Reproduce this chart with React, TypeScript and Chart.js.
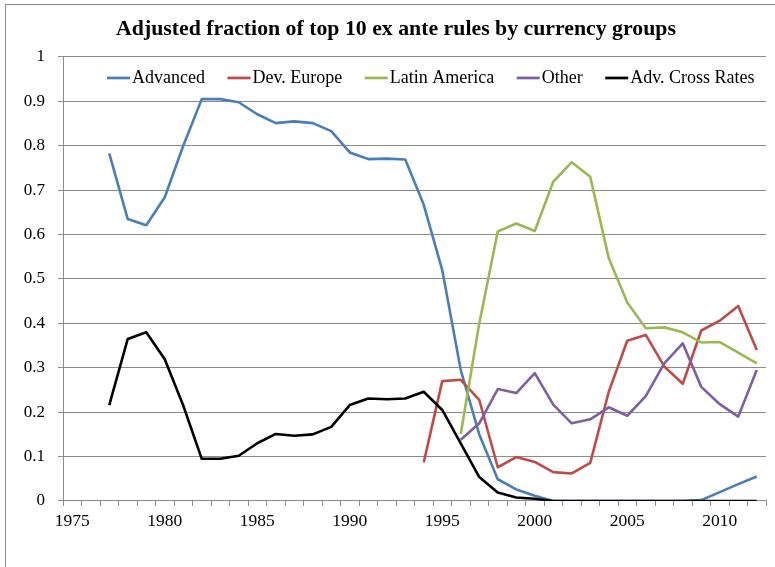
import React, { useEffect, useRef } from "react";
import { Chart, registerables } from "chart.js";

Chart.register(...registerables);

const years: number[] = [
  1975, 1976, 1977, 1978, 1979, 1980, 1981, 1982, 1983, 1984, 1985, 1986, 1987,
  1988, 1989, 1990, 1991, 1992, 1993, 1994, 1995, 1996, 1997, 1998, 1999, 2000,
  2001, 2002, 2003, 2004, 2005, 2006, 2007, 2008, 2009, 2010, 2011, 2012,
];

const advanced: (number | null)[] = [
  null, null, 0.783, 0.635, 0.621, 0.684, 0.8, 0.905, 0.905, 0.898, 0.871, 0.851, 0.855,
  0.851, 0.833, 0.785, 0.77, 0.771, 0.769, 0.667, 0.52, 0.295, 0.15, 0.049, 0.026, 0.012,
  0, 0, 0, 0, 0, 0, 0, 0, 0.002, 0.02, 0.038, 0.055,
];

const devEurope: (number | null)[] = [
  null, null, null, null, null, null, null, null, null, null, null, null, null,
  null, null, null, null, null, null, 0.087, 0.27, 0.273, 0.228, 0.076, 0.099, 0.088,
  0.065, 0.062, 0.086, 0.246, 0.361, 0.374, 0.303, 0.264, 0.384, 0.406, 0.439, 0.34,
];

const latinAmerica: (number | null)[] = [
  null, null, null, null, null, null, null, null, null, null, null, null, null,
  null, null, null, null, null, null, null, null, 0.151, 0.4, 0.607, 0.625, 0.608,
  0.719, 0.763, 0.73, 0.547, 0.447, 0.389, 0.391, 0.38, 0.357, 0.358, 0.334, 0.31,
];

const other: (number | null)[] = [
  null, null, null, null, null, null, null, null, null, null, null, null, null,
  null, null, null, null, null, null, null, null, 0.138, 0.175, 0.252, 0.243, 0.288,
  0.217, 0.175, 0.184, 0.211, 0.192, 0.236, 0.31, 0.355, 0.257, 0.218, 0.19, 0.295,
];

const advCrossRates: (number | null)[] = [
  null, null, 0.216, 0.365, 0.38, 0.319, 0.215, 0.095, 0.095, 0.102, 0.13, 0.151, 0.147,
  0.15, 0.167, 0.216, 0.231, 0.229, 0.231, 0.246, 0.205, 0.13, 0.054, 0.019, 0.008, 0.005,
  0, 0, 0, 0, 0, 0, 0, 0, 0, 0, 0, 0,
];

const seriesNames = ["Advanced", "Dev. Europe", "Latin America", "Other", "Adv. Cross Rates"];
const seriesColors = ["#4A7EBB", "#BE4B48", "#98B954", "#7D60A0", "#000000"];
const seriesValues = [advanced, devEurope, latinAmerica, other, advCrossRates];

const titleText = "Adjusted fraction of top 10 ex ante rules by currency groups";

const SERIF = '"Liberation Serif", "Times New Roman", serif';

const inlineLegend = {
  id: "inlineLegend",
  afterLayout(chart: any) {
    // let the y-axis labels use the space left of the layout padding (no clipping)
    if (chart.scales.y) chart.scales.y.left = 0;
  },
  afterDraw(chart: any) {
    const { ctx, chartArea } = chart;
    ctx.save();
    ctx.font = `18px ${SERIF}`;
    ctx.textBaseline = "middle";
    ctx.textAlign = "left";
    let x = chartArea.left + 44;
    const y = chartArea.top + 21;
    chart.data.datasets.forEach((ds: any) => {
      ctx.strokeStyle = ds.borderColor;
      ctx.lineWidth = 2.75;
      ctx.beginPath();
      ctx.moveTo(x, y);
      ctx.lineTo(x + 23, y);
      ctx.stroke();
      x += 25;
      ctx.fillStyle = "#000";
      ctx.fillText(ds.label, x, y);
      x += ctx.measureText(ds.label).width + 22.5;
    });
    ctx.restore();
  },
};

export default function App() {
  const ref = useRef<HTMLCanvasElement | null>(null);

  useEffect(() => {
    if (!ref.current) return;
    const chart = new Chart(ref.current, {
      type: "line",
      data: {
        labels: years.map(String),
        datasets: seriesNames.map((name, i) => ({
          label: name,
          data: seriesValues[i],
          borderColor: seriesColors[i],
          backgroundColor: seriesColors[i],
          borderWidth: 2.6,
          pointRadius: 0,
          pointHoverRadius: 0,
          tension: 0,
          spanGaps: false,
          borderJoinStyle: "round" as const,
          order: seriesNames.length - i,
        })),
      },
      options: {
        responsive: false,
        animation: false,
        devicePixelRatio: 1,
        layout: { padding: { left: 26, right: 9, top: 0, bottom: 0 } },
        plugins: {
          legend: { display: false },
          tooltip: { enabled: false },
          title: {
            display: true,
            text: titleText,
            color: "#000",
            font: { family: SERIF, size: 21.8, weight: "bold", lineHeight: 1.2 },
            padding: { top: 16, bottom: 14.8 },
          },
        },
        scales: {
          x: {
            type: "category",
            offset: true,
            grid: {
              offset: true,
              drawOnChartArea: false,
              drawTicks: true,
              tickLength: 5,
              color: "#8c8c8c",
              lineWidth: 1,
            },
            border: { display: true, color: "#8c8c8c", width: 1 },
            ticks: {
              autoSkip: false,
              maxRotation: 0,
              minRotation: 0,
              padding: 5,
              color: "#000",
              font: { family: SERIF, size: 17.5 },
              callback: (_v: any, idx: number) =>
                years[idx] % 5 === 0 ? String(years[idx]) : "",
            },
            afterFit: (scale: any) => {
              scale.height = 66;
            },
          },
          y: {
            type: "linear",
            min: 0,
            max: 1,
            grid: {
              color: "#8c8c8c",
              lineWidth: 1,
              drawTicks: true,
              tickLength: 5,
            },
            border: { display: true, color: "#8c8c8c", width: 1 },
            ticks: {
              stepSize: 0.1,
              padding: 13,
              color: "#000",
              font: { family: SERIF, size: 17 },
              callback: (v: any) => String(Math.round(Number(v) * 10) / 10),
            },
            afterFit: (scale: any) => {
              scale.width = 37;
            },
          },
        },
      },
      plugins: [inlineLegend],
    });
    return () => chart.destroy();
  }, []);

  return (
    <div style={{ position: "fixed", left: 0, top: 0, width: 775, height: 567, overflow: "hidden", background: "#fff" }}>
      <div
        style={{
          position: "absolute",
          left: 5,
          top: 4,
          width: 820,
          height: 620,
          borderLeft: "1.5px solid #8c8c8c",
          borderTop: "1.5px solid #8c8c8c",
        }}
      />
      <canvas ref={ref} width={775} height={567} style={{ position: "absolute", left: 0, top: 0 }} />
    </div>
  );
}
